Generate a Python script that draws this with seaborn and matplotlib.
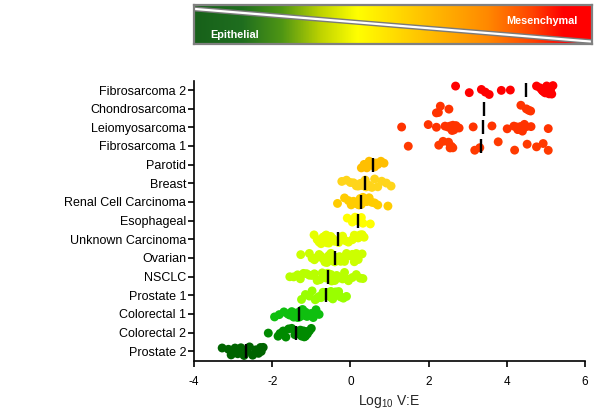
import numpy as np
import pandas as pd
import matplotlib
matplotlib.use("Agg")
import matplotlib.pyplot as plt
from matplotlib.colors import LinearSegmentedColormap
import seaborn as sns

# ---- data: log10 V:E ratio per tumour type ----
categories = [
    "Fibrosarcoma 2", "Chondrosarcoma", "Leiomyosarcoma", "Fibrosarcoma 1",
    "Parotid", "Breast", "Renal Cell Carcinoma", "Esophageal",
    "Unknown Carcinoma", "Ovarian", "NSCLC", "Prostate 1",
    "Colorectal 1", "Colorectal 2", "Prostate 2",
]

fibrosarcoma_2 = [2.69, 3.04, 3.35, 3.45, 3.55, 3.86, 4.09,
                  4.76, 4.85, 4.90, 4.95, 4.98, 5.00, 5.02, 5.05, 5.08,
                  5.10, 5.12, 5.15, 5.18, 4.92]
chondrosarcoma = [2.20, 2.30, 2.52, 2.25, 4.36, 4.50, 4.61, 4.56]
leiomyosarcoma = [1.31, 1.99, 2.20, 2.42, 2.50, 2.55, 2.60, 2.65, 2.70, 2.78,
                  2.62, 3.14, 3.62, 4.01, 4.18, 4.25, 4.30, 4.35, 4.40, 4.45,
                  4.28, 4.62, 4.50, 5.06]
fibrosarcoma_1 = [1.48, 2.26, 2.37, 2.51, 2.55, 2.58, 2.62, 3.18, 3.31, 3.78,
                  4.52, 4.76, 4.93, 5.06, 4.20]
parotid = [0.28, 0.35, 0.42, 0.48, 0.52, 0.58, 0.62, 0.70, 0.78, 0.86, 0.66]
breast = [-0.22, -0.10, 0.00, 0.08, 0.15, 0.20, 0.25, 0.30, 0.35, 0.40,
          0.45, 0.50, 0.55, 0.62, 0.70, 0.80, 0.92, 1.04, 0.28, 0.38]
renal_cell = [-0.33, -0.15, -0.05, 0.02, 0.08, 0.12, 0.18, 0.22, 0.28, 0.32,
              0.38, 0.42, 0.48, 0.55, 0.62, 0.70, 0.96, 0.25]
esophageal = [-0.08, 0.05, 0.12, 0.18, 0.22, 0.28, 0.32, 0.51]
unknown_carcinoma = [-0.93, -0.85, -0.80, -0.75, -0.70, -0.65, -0.60, -0.55,
                     -0.50, -0.45, -0.40, -0.30, -0.20, -0.12, -0.05, 0.05,
                     0.15, 0.25, 0.35, -0.72, -0.62, 0.30, 0.20, 0.10]
ovarian = [-1.27, -1.05, -0.98, -0.92, -0.85, -0.80, -0.75, -0.70, -0.65,
           -0.60, -0.55, -0.50, -0.45, -0.40, -0.35, -0.30, -0.25, -0.20,
           -0.15, -0.10, -0.05, 0.00, 0.05, 0.10, 0.15, 0.20, 0.30, -0.28,
           -0.18, -0.08]
nsclc = [-1.55, -1.45, -1.35, -1.28, -1.20, -1.12, -1.05, -0.98, -0.92,
         -0.85, -0.78, -0.72, -0.65, -0.60, -0.55, -0.50, -0.45, -0.40,
         -0.35, -0.30, -0.25, -0.20, -0.15, -0.10, -0.05, 0.05, 0.15, 0.25,
         0.32, -0.62, -0.58, -0.48]
prostate_1 = [-1.25, -1.15, -1.05, -0.98, -0.90, -0.85, -0.80, -0.75, -0.70,
              -0.65, -0.60, -0.55, -0.50, -0.45, -0.40, -0.35, -0.30, -0.25,
              -0.18, -0.10, -0.62, -0.48, -0.38]
colorectal_1 = [-1.94, -1.82, -1.70, -1.60, -1.55, -1.50, -1.45, -1.40, -1.35,
                -1.30, -1.25, -1.20, -1.15, -1.10, -1.05, -1.00, -0.95, -0.88,
                -0.80, -1.32, -1.22, -1.12]
colorectal_2 = [-2.10, -1.85, -1.80, -1.72, -1.65, -1.58, -1.50, -1.42, -1.35,
                -1.30, -1.25, -1.20, -1.15, -1.10, -1.05, -1.00, -1.28, -1.18,
                -1.12]
prostate_2 = [-3.28, -3.12, -3.05, -2.95, -2.88, -2.80, -2.72, -2.65, -2.58,
              -2.50, -2.42, -2.35, -2.28, -2.23, -2.30]

series = [fibrosarcoma_2, chondrosarcoma, leiomyosarcoma, fibrosarcoma_1,
          parotid, breast, renal_cell, esophageal, unknown_carcinoma, ovarian,
          nsclc, prostate_1, colorectal_1, colorectal_2, prostate_2]

point_colors = ["#ff0000", "#ff3300", "#ff3300", "#ff3a00",
                "#ffbf00", "#ffd51a", "#ffcc00", "#ffff00",
                "#e6ff00", "#ccff00", "#b8ff00", "#99ff00",
                "#0fbf0f", "#008a00", "#006400"]

x_ticks = [-4, -2, 0, 2, 4, 6]

df = pd.DataFrame({
    "category": np.repeat(categories, [len(s) for s in series]),
    "value": np.concatenate(series),
})
palette = dict(zip(categories, point_colors))

# ---- style ----
sns.set_style("ticks")
plt.rcParams["font.family"] = ["Liberation Sans", "DejaVu Sans"]
plt.rcParams["mathtext.fontset"] = "custom"
plt.rcParams["mathtext.rm"] = "Liberation Sans"
plt.rcParams["axes.edgecolor"] = "black"

fig = plt.figure(figsize=(5.96, 4.15), dpi=100)
ax = fig.add_axes([194 / 596, (415 - 360.5) / 415, 391 / 596, 279.8 / 415])

np.random.seed(7)
sns.stripplot(data=df, x="value", y="category", hue="category",
              order=categories, palette=palette, jitter=0.25, size=6.4,
              linewidth=0, legend=False, ax=ax, zorder=2)

# mean of every group as a short vertical bar
sns.pointplot(data=df, x="value", y="category", order=categories,
              estimator="mean", errorbar=None, color="black",
              markers="|", linestyles="none", markersize=9.5,
              markeredgewidth=1.7, ax=ax, zorder=4)

ax.set_xlim(-4, 6)
ax.set_ylim(14.5, -0.5)
ax.set_xticks(x_ticks)
ax.set_xticklabels([str(t) for t in x_ticks])
ax.set_ylabel("")
ax.set_xlabel(r"Log$_{10}$ V:E", fontsize=10, labelpad=4)
sns.despine(ax=ax)
for s in ("left", "bottom"):
    ax.spines[s].set_linewidth(1.2)
ax.tick_params(axis="y", length=4, width=1.2, pad=1.5, labelsize=9,
               colors="black")
ax.tick_params(axis="x", length=4, width=1.2, pad=7, labelsize=8.5,
               colors="black")

# ---- epithelial -> mesenchymal gradient banner ----
banner_cmap = LinearSegmentedColormap.from_list("emt", [
    (0.00, "#17611a"), (0.12, "#1f6e1f"), (0.22, "#4f9614"),
    (0.32, "#c0d400"), (0.41, "#ffff00"), (0.57, "#ffc400"),
    (0.74, "#ff8800"), (0.85, "#ff4400"), (0.93, "#ff0000"),
    (1.00, "#ff0000"),
])
gax = fig.add_axes([194 / 596, 1 - 44 / 415, 398 / 596, 39 / 415])
gax.imshow(np.linspace(0, 1, 512)[None, :], aspect="auto", cmap=banner_cmap,
           extent=[0, 1, 0, 1])
gax.plot([0, 1], [0.90, 0.06], color="#7a7a7a", lw=3.6,
         solid_capstyle="butt")
gax.plot([0, 1], [0.90, 0.06], color="white", lw=1.6,
         solid_capstyle="butt")
gax.set_xlim(0, 1)
gax.set_ylim(0, 1)
gax.set_xticks([])
gax.set_yticks([])
for sp in gax.spines.values():
    sp.set_color("#808080")
    sp.set_linewidth(1.6)
gax.text(0.04, 0.16, "Epithelial", color="white", fontsize=7.8,
         fontweight="bold", transform=gax.transAxes, ha="left",
         va="baseline")
gax.text(0.965, 0.52, "Mesenchymal", color="white", fontsize=7.8,
         fontweight="bold", transform=gax.transAxes, ha="right",
         va="baseline")

fig.savefig("out.png", dpi=100)
